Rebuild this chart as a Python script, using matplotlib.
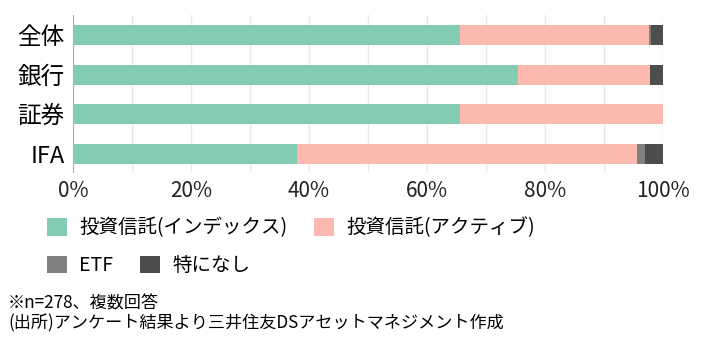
import numpy as np
import matplotlib
matplotlib.use('Agg')
from matplotlib import pyplot as plt

plt.rcParams['font.family'] = ['Noto Sans CJK JP', 'DejaVu Sans']

# data (share of answers, %)
categories = ['全体', '銀行', '証券', 'IFA']
series_names = ['投資信託(インデックス)', '投資信託(アクティブ)', 'ETF', '特になし']
index_fund = [65.6, 75.5, 65.6, 37.9]
active_fund = [32.1, 22.3, 34.4, 57.7]
etf = [0.3, 0.0, 0.0, 1.4]
nothing = [2.0, 2.2, 0.0, 3.0]
note1 = '※n=278、複数回答'
note2 = '(出所)アンケート結果より三井住友DSアセットマネジメント作成'

colors = ['#82ccb3', '#fdb8b0', '#808080', '#4d4d4d']

fig = plt.figure(figsize=(7.1, 3.54), dpi=100)
ax = fig.add_axes([73/710, 1-172/354, 590/710, 157/354])

y = np.arange(len(categories))
left = np.zeros(len(categories))
handles = []
for vals, name, c in zip([index_fund, active_fund, etf, nothing], series_names, colors):
    b = ax.barh(y, vals, left=left, height=0.5, color=c, label=name, zorder=3)
    handles.append(b)
    left = left + np.array(vals)

ax.set_ylim(3.45, -0.5)
ax.set_xlim(0, 100)
ax.set_xticks(np.arange(0, 101, 10))
ax.set_xticklabels(['' if v % 20 else f'{v}%' for v in range(0, 101, 10)])
ax.set_yticks(y)
ax.set_yticklabels(categories, fontsize=17)
ax.tick_params(axis='x', length=0, pad=6, labelsize=15, colors='#222222')
ax.tick_params(axis='y', length=0, pad=6)
ax.grid(axis='x', color='#e8e8e8', linewidth=1, zorder=0)
for s in ['top', 'right', 'bottom']:
    ax.spines[s].set_visible(False)
ax.spines['left'].set_color('#b0b0b0')

leg_kw = dict(loc='center left', frameon=False, ncol=2, fontsize=14,
              handlelength=1.05, handleheight=1.0, handletextpad=0.62,
              columnspacing=1.35, borderpad=0, borderaxespad=0)
leg1 = fig.legend(handles=handles[:2], bbox_to_anchor=(47/710, 1-228/354), **leg_kw)
leg2 = fig.legend(handles=handles[2:], bbox_to_anchor=(47/710, 1-265.5/354), **leg_kw)

fig.text(8/710, 1-303/354, note1, fontsize=12.3, va='center', ha='left')
fig.text(8/710, 1-323/354, note2, fontsize=12.3, va='center', ha='left')

plt.savefig('out.png', dpi=100)
plt.close()
